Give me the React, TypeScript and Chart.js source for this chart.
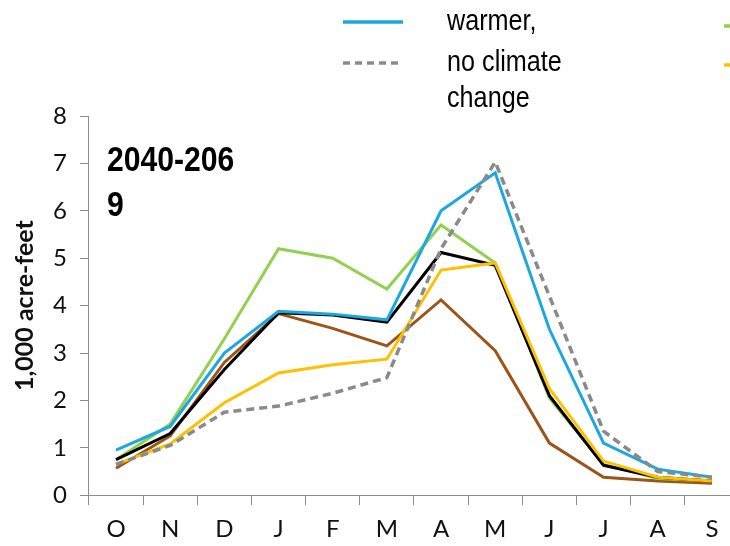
import React, { useEffect, useRef } from "react";
import { Chart, registerables } from "chart.js";

Chart.register(...registerables);

const months = ["O", "N", "D", "J", "F", "M", "A", "M", "J", "J", "A", "S"];
const yTicks = [0, 1, 2, 3, 4, 5, 6, 7, 8];

const warmer = [0.95, 1.45, 3.0, 3.88, 3.82, 3.7, 6.0, 6.8, 3.5, 1.1, 0.55, 0.38];
const noClimateChange = [0.65, 1.05, 1.75, 1.88, 2.15, 2.48, 5.2, 7.03, 4.2, 1.35, 0.5, 0.38];
const greenSeries = [0.75, 1.5, 3.3, 5.2, 5.0, 4.35, 5.7, 4.9, 2.05, 0.65, 0.35, 0.3];
const yellowSeries = [0.65, 1.08, 1.95, 2.58, 2.75, 2.87, 4.75, 4.9, 2.25, 0.72, 0.38, 0.3];
const blackSeries = [0.75, 1.3, 2.65, 3.85, 3.8, 3.65, 5.12, 4.85, 2.1, 0.63, 0.38, 0.3];
const brownSeries = [0.57, 1.25, 2.8, 3.83, 3.52, 3.15, 4.12, 3.05, 1.1, 0.38, 0.3, 0.25];

const periodLines = ["2040-206", "9"];
const legendLeft = [
  { color: "#1ca7df", dash: [] as number[], lines: ["warmer,"] },
  { color: "#8a8a8a", dash: [7, 5], lines: ["no climate", "change"] },
];
const legendRight = [
  { color: "#92d050" },
  { color: "#ffc000" },
];

const SANS = '"Liberation Sans", Arial, sans-serif';

function narrowText(ctx: CanvasRenderingContext2D, t: string, x: number, y: number, sx: number) {
  ctx.save();
  ctx.translate(x, y);
  ctx.scale(sx, 1);
  ctx.fillText(t, 0, 0);
  ctx.restore();
}

const overlayPlugin = {
  id: "overlay",
  afterDraw(chart: any) {
    const ctx = chart.ctx;
    const area = chart.chartArea;
    ctx.save();
    ctx.fillStyle = "#000";
    ctx.font = `bold 35px ${SANS}`;
    ctx.textBaseline = "alphabetic";
    ctx.textAlign = "left";
    periodLines.forEach((t, i) => {
      narrowText(ctx, t, area.left + 18, area.top + 55 + i * 45, 0.86);
    });
    ctx.font = `30px ${SANS}`;
    const lineY = [22, 63];
    const textY = [30, 71];
    legendLeft.forEach((item, i) => {
      ctx.strokeStyle = item.color;
      ctx.lineWidth = 3.5;
      ctx.setLineDash(item.dash);
      ctx.beginPath();
      ctx.moveTo(343, lineY[i]);
      ctx.lineTo(403, lineY[i]);
      ctx.stroke();
      ctx.setLineDash([]);
      item.lines.forEach((t, j) => {
        narrowText(ctx, t, 447, textY[i] + j * 36, 0.84);
      });
    });
    legendRight.forEach((item, i) => {
      ctx.strokeStyle = item.color;
      ctx.lineWidth = 3.5;
      ctx.beginPath();
      ctx.moveTo(724, [26, 65][i]);
      ctx.lineTo(784, [26, 65][i]);
      ctx.stroke();
    });
    ctx.restore();
  },
};

export default function App() {
  const ref = useRef<HTMLCanvasElement | null>(null);
  useEffect(() => {
    if (!ref.current) return;
    const ds = (data: number[], color: string, extra: any = {}) => ({
      data,
      borderColor: color,
      backgroundColor: color,
      borderWidth: 3,
      pointRadius: 0,
      tension: 0,
      fill: false,
      ...extra,
    });
    const chart = new Chart(ref.current, {
      type: "line",
      data: {
        labels: months,
        datasets: [
          ds(noClimateChange, "#8a8a8a", { borderDash: [8, 5], borderWidth: 3.5, label: "no climate change" }),
          ds(warmer, "#1ca7df", { label: "warmer" }),
          ds(yellowSeries, "#ffc000", { label: "yellow" }),
          ds(blackSeries, "#000000", { label: "black" }),
          ds(greenSeries, "#92d050", { label: "green" }),
          ds(brownSeries, "#9e5418", { label: "brown" }),
        ],
      },
      options: {
        animation: false,
        responsive: false,
        layout: { padding: { top: 116, right: 6, left: 4, bottom: 0 } },
        plugins: { legend: { display: false }, tooltip: { enabled: false }, title: { display: false } },
        scales: {
          x: {
            type: "category",
            offset: true,
            grid: { offset: true, drawOnChartArea: false, drawTicks: true, tickLength: 10, color: "#8c8c8c" },
            border: { display: true, color: "#8c8c8c", width: 1 },
            ticks: { color: "#111", font: { family: "Lato, sans-serif", size: 24 }, padding: 10, maxRotation: 0, autoSkip: false },
          },
          y: {
            min: 0,
            max: 8,
            afterBuildTicks: (axis: any) => {
              axis.ticks = yTicks.map((v) => ({ value: v }));
            },
            grid: { drawOnChartArea: false, drawTicks: true, tickLength: 9, color: "#8c8c8c" },
            border: { display: true, color: "#8c8c8c", width: 1 },
            ticks: { color: "#111", font: { family: "Lato, sans-serif", size: 24 }, padding: 13 },
            title: {
              display: true,
              text: "1,000 acre-feet",
              color: "#111",
              font: { family: "Lato, sans-serif", size: 25, weight: "bold" },
              padding: { top: 6, bottom: 0 },
            },
          },
        },
      },
      plugins: [overlayPlugin],
    });
    return () => chart.destroy();
  }, []);
  return (
    <div style={{ position: "fixed", left: 0, top: 0, width: 730, height: 546, overflow: "hidden", background: "#fff" }}>
      <canvas ref={ref} width={745} height={554} style={{ display: "block" }} />
    </div>
  );
}
